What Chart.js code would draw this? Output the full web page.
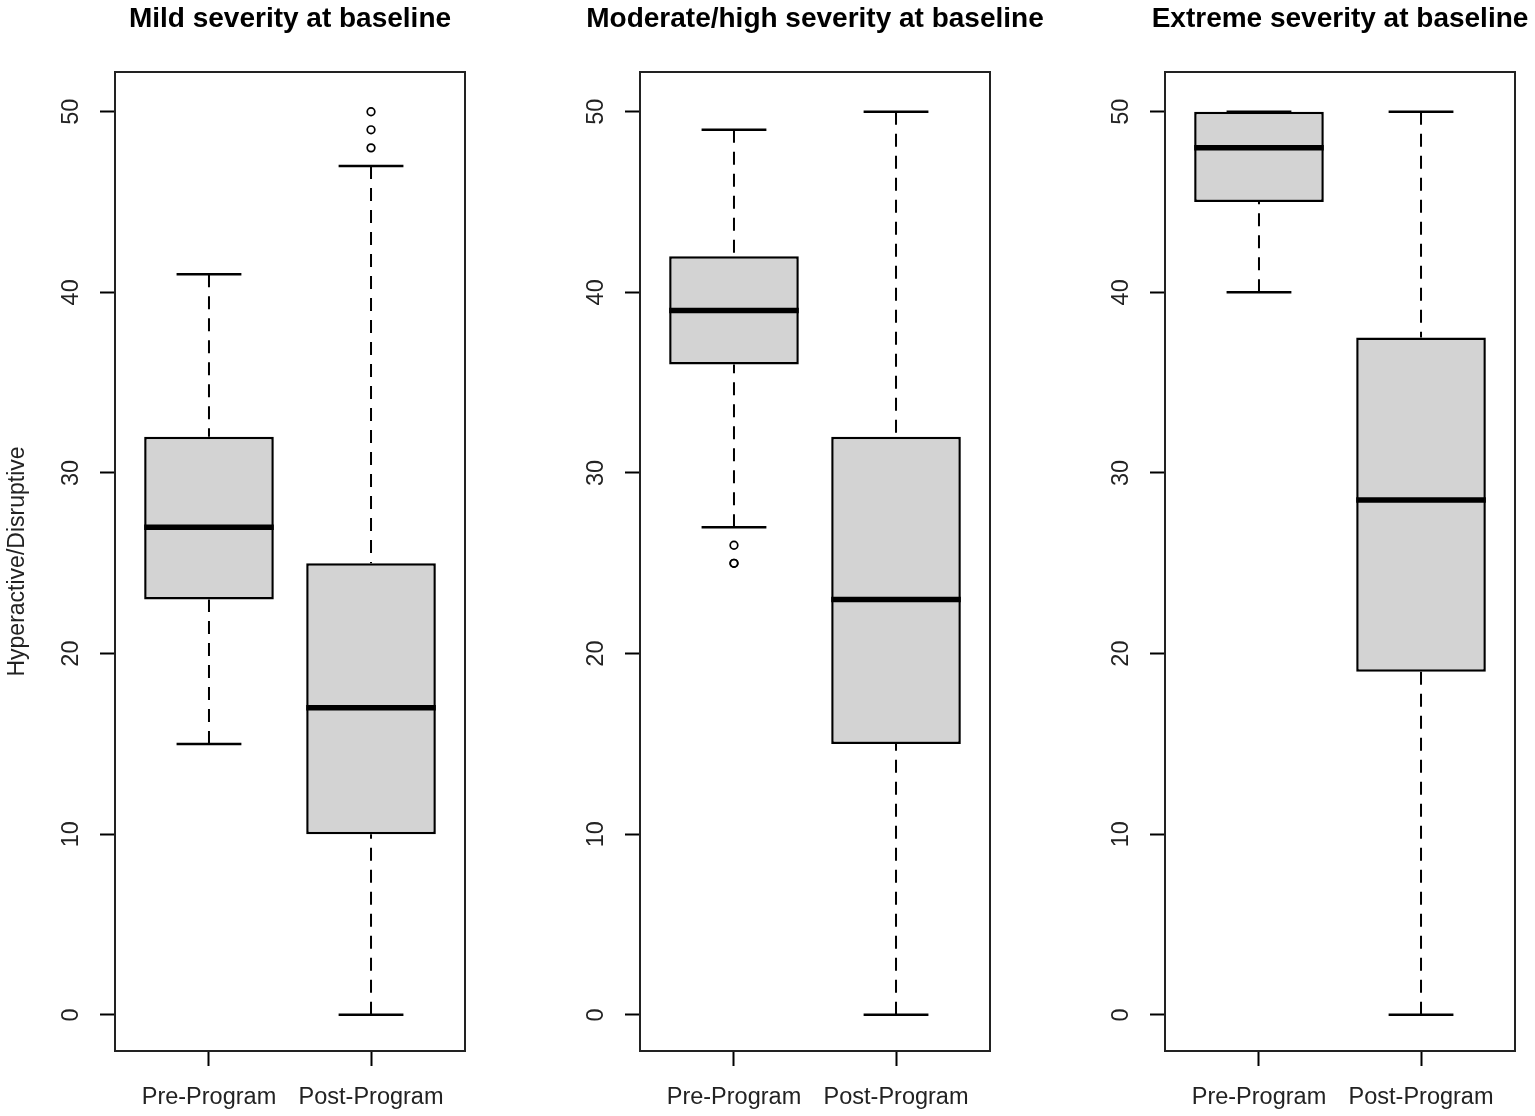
<!DOCTYPE html>
<html>
<head>
<meta charset="utf-8">
<script src="https://cdn.jsdelivr.net/npm/chart.js@4.4.1/dist/chart.umd.min.js"></script>
<style>
  html, body { margin: 0; padding: 0; background: #fff; overflow: hidden; }
  #wrap { position: relative; width: 1535px; height: 1116px; overflow: hidden; }
  canvas { position: absolute; top: 0; }
</style>
</head>
<body>
<div id="wrap">
  <canvas id="c0" width="525" height="1116" style="left:0px"></canvas>
  <canvas id="c1" width="525" height="1116" style="left:525px"></canvas>
  <canvas id="c2" width="525" height="1116" style="left:1050px"></canvas>
</div>
<script>
// values, one entry per panel, [Pre, Post] inside
var panelTitles = ["Mild severity at baseline", "Moderate/high severity at baseline", "Extreme severity at baseline"];
var groups = ["Pre-Program", "Post-Program"];
var whiskerLow = [[15, 0], [27, 0], [40, 0]];
var q1 = [[23, 10], [36, 15], [45, 19]];
var median = [[27, 17], [39, 23], [48, 28.5]];
var q3 = [[32, 25], [42, 32], [50, 37.5]];
var whiskerHigh = [[41, 47], [49, 50], [50, 50]];
var outliers = [[[], [48, 49, 50]], [[25, 25, 26], []], [[], []]];
var yTicks = [0, 10, 20, 30, 40, 50];
var yLabel = "Hyperactive/Disruptive";

var FONT = "'Liberation Sans', Arial, sans-serif";
var BOX_HALF = 0.4;
var CAP_HALF = 0.2;

function boxParts(p) {
    return {
        id: 'boxParts' + p,
        beforeDatasetsDraw: function (chart) {
            var ctx = chart.ctx, xs = chart.scales.x, ys = chart.scales.y;
            ctx.save();
            ctx.strokeStyle = '#000';
            for (var g = 0; g < groups.length; g++) {
                var cx = xs.getPixelForValue(g + 1);
                var l = xs.getPixelForValue(g + 1 - CAP_HALF);
                var r = xs.getPixelForValue(g + 1 + CAP_HALF);
                // dashed whiskers, drawn from the end towards the box
                ctx.lineWidth = 2;
                ctx.setLineDash([13, 9]);
                ctx.beginPath();
                ctx.moveTo(cx, ys.getPixelForValue(whiskerLow[p][g]));
                ctx.lineTo(cx, ys.getPixelForValue(q1[p][g]));
                ctx.stroke();
                ctx.beginPath();
                ctx.moveTo(cx, ys.getPixelForValue(whiskerHigh[p][g]));
                ctx.lineTo(cx, ys.getPixelForValue(q3[p][g]));
                ctx.stroke();
                // caps
                ctx.setLineDash([]);
                ctx.lineWidth = 2.5;
                ctx.beginPath();
                ctx.moveTo(l, ys.getPixelForValue(whiskerLow[p][g]));
                ctx.lineTo(r, ys.getPixelForValue(whiskerLow[p][g]));
                ctx.moveTo(l, ys.getPixelForValue(whiskerHigh[p][g]));
                ctx.lineTo(r, ys.getPixelForValue(whiskerHigh[p][g]));
                ctx.stroke();
            }
            ctx.restore();
        },
        afterDatasetsDraw: function (chart) {
            var ctx = chart.ctx, xs = chart.scales.x, ys = chart.scales.y;
            ctx.save();
            ctx.strokeStyle = '#000';
            ctx.lineWidth = 5.5;
            for (var g = 0; g < groups.length; g++) {
                var y = ys.getPixelForValue(median[p][g]);
                ctx.beginPath();
                ctx.moveTo(xs.getPixelForValue(g + 1 - BOX_HALF), y);
                ctx.lineTo(xs.getPixelForValue(g + 1 + BOX_HALF), y);
                ctx.stroke();
            }
            // plot frame
            var a = chart.chartArea;
            ctx.lineWidth = 2;
            ctx.strokeStyle = '#222';
            ctx.strokeRect(a.left, a.top, a.right - a.left, a.bottom - a.top);
            // panel title, centred over the plot region and allowed to overhang it
            ctx.fillStyle = '#000';
            ctx.font = 'bold 28px ' + FONT;
            ctx.textAlign = 'center';
            ctx.textBaseline = 'middle';
            ctx.fillText(panelTitles[p], (a.left + a.right) / 2, 19);
            ctx.restore();
        }
    };
}

for (var p = 0; p < 3; p++) {
    var boxData = groups.map(function (g, j) {
        return { x: j + 1, y: [q1[p][j], q3[p][j]] };
    });
    var outData = [];
    outliers[p].forEach(function (arr, j) {
        arr.forEach(function (v) { outData.push({ x: j + 1, y: v }); });
    });

    var ctx = document.getElementById('c' + p).getContext('2d');
    var myChart = new Chart(ctx, {
        type: 'bar',
        data: {
            datasets: [
                {
                    data: boxData,
                    backgroundColor: '#d3d3d3',
                    borderColor: '#000',
                    borderWidth: 2.5,
                    borderSkipped: false,
                    categoryPercentage: 1,
                    barPercentage: 2 * BOX_HALF,
                },
                {
                    type: 'scatter',
                    data: outData,
                    pointRadius: 3.8,
                    pointBorderWidth: 1.7,
                    pointBackgroundColor: 'rgba(0,0,0,0)',
                    pointBorderColor: '#000',
                },
            ],
        },
        options: {
            responsive: false,
            animation: false,
            layout: { padding: { left: 0, right: 60, top: 72, bottom: 0 } },
            scales: {
                x: {
                    type: 'linear',
                    min: 0.42,
                    max: 2.58,
                    offset: false,
                    afterBuildTicks: function (s) {
                        s.ticks = groups.map(function (g, j) { return { value: j + 1 }; });
                    },
                    afterFit: function (s) { s.height = 65; },
                    grid: {
                        offset: false,
                        drawOnChartArea: false,
                        drawTicks: true,
                        tickLength: 15,
                        tickWidth: 2,
                        tickColor: '#000',
                    },
                    border: { display: false },
                    ticks: {
                        maxRotation: 0,
                        minRotation: 0,
                        padding: 17,
                        color: '#222',
                        font: { family: FONT, size: 23.5 },
                        callback: function (v, i) { return groups[i]; },
                    },
                },
                y: {
                    type: 'linear',
                    min: -2,
                    max: 52.2,
                    afterBuildTicks: function (s) {
                        s.ticks = yTicks.map(function (v) { return { value: v }; });
                    },
                    afterFit: function (s) { s.width = 115; },
                    grid: {
                        drawOnChartArea: false,
                        drawTicks: true,
                        tickLength: 15,
                        tickWidth: 2,
                        tickColor: '#000',
                    },
                    border: { display: false },
                    ticks: {
                        minRotation: 90,
                        maxRotation: 90,
                        crossAlign: 'center',
                        padding: 15,
                        color: '#222',
                        font: { family: FONT, size: 23.5 },
                    },
                    title: {
                        display: p === 0,
                        text: yLabel,
                        color: '#222',
                        font: { family: FONT, size: 23 },
                        padding: { top: 4, bottom: 0 },
                    },
                },
            },
            plugins: {
                legend: { display: false },
                tooltip: { enabled: false },
                title: { display: false },
            },
        },
        plugins: [boxParts(p)],
    });
}
</script>
</body>
</html>
